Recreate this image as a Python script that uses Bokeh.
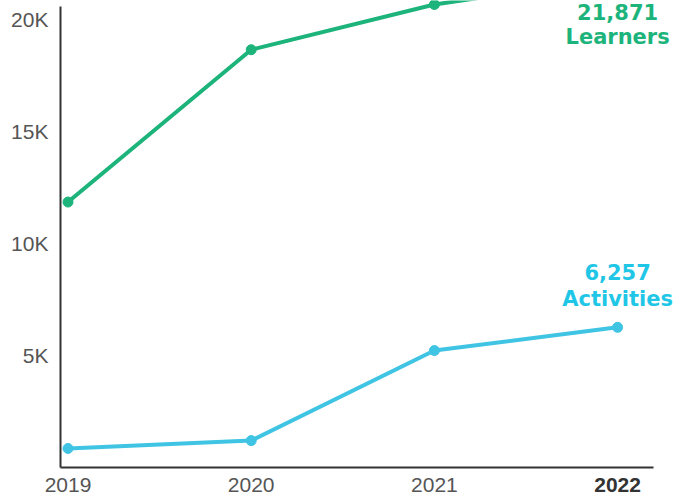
from bokeh.plotting import figure
from bokeh.models import FixedTicker, Label, Range1d, LinearAxis
from bokeh.embed import file_html
from bokeh.resources import INLINE

# ---- data ----
years = [2019, 2020, 2021, 2022]
learners = [11850, 18650, 20670, 21871]
activities = [850, 1200, 5220, 6257]
x_tick_labels = ["2019", "2020", "2021", "2022"]
y_ticks = [5000, 10000, 15000, 20000]
y_tick_labels = ["5K", "10K", "15K", "20K"]
learners_label = "21,871\nLearners"
activities_label = "6,257\nActivities"

GREEN = "#1db47c"
CYAN = "#3fc4e3"
CYAN_TEXT = "#1fc6e6"

# axis extents (data units)
X_AXIS_START, X_AXIS_END = 2018.959, 2022.196
Y_AXIS_START, Y_AXIS_END = 0, 20580

p = figure(width=675, height=498, output_backend="svg", toolbar_location=None,
           x_range=Range1d(2018.6316, 2022.316), y_range=Range1d(-1384, 20848),
           x_axis_location=None, y_axis_location=None,
           min_border_left=0, min_border_right=0, min_border_top=0,
           min_border_bottom=0)
p.outline_line_color = None
p.background_fill_color = "white"
p.border_fill_color = "white"

p.line(years, learners, line_color=GREEN, line_width=4)
p.scatter(years, learners, size=10, fill_color=GREEN, line_color=GREEN)
p.line(years, activities, line_color=CYAN, line_width=4)
p.scatter(years, activities, size=10, fill_color=CYAN, line_color=CYAN)

# axes drawn inside the frame at fixed locations
xaxis = LinearAxis(fixed_location=Y_AXIS_START, bounds=(X_AXIS_START, X_AXIS_END))
yaxis = LinearAxis(fixed_location=X_AXIS_START, bounds=(Y_AXIS_START, Y_AXIS_END))
xaxis.ticker = FixedTicker(ticks=years)
overrides = {y: lab for y, lab in zip(years, x_tick_labels)}
overrides[years[-1]] = ""
xaxis.major_label_overrides = overrides
yaxis.ticker = FixedTicker(ticks=y_ticks)
yaxis.major_label_overrides = {t: lab for t, lab in zip(y_ticks, y_tick_labels)}
for ax in (xaxis, yaxis):
    ax.axis_line_color = "#333333"
    ax.axis_line_width = 2
    ax.major_tick_line_color = None
    ax.minor_tick_line_color = None
    ax.major_tick_out = 0
    ax.major_tick_in = 0
    ax.minor_tick_out = 0
    ax.minor_tick_in = 0
    ax.major_label_text_font = "Liberation Sans"
    ax.major_label_text_font_size = "21px"
    ax.major_label_text_color = "#555555"
xaxis.major_label_standoff = 11
yaxis.major_label_standoff = 12
p.add_layout(xaxis, "below")
p.add_layout(yaxis, "left")

p.xgrid.visible = False
p.ygrid.visible = False

# bold last year label
p.add_layout(Label(x=years[-1], y=0, y_offset=-18, text=x_tick_labels[-1],
                   text_align="center", text_baseline="middle",
                   text_font="Liberation Sans", text_font_style="bold",
                   text_font_size="21px", text_color="#333333"))

# end labels
p.add_layout(Label(x=years[-1], y=learners[-1], y_offset=-71, text=learners_label,
                   text_align="center", text_baseline="bottom",
                   text_font="DejaVu Sans", text_font_style="bold",
                   text_font_size="21px", text_color=GREEN, text_line_height=1.0))
p.add_layout(Label(x=years[-1], y=activities[-1], y_offset=16, text=activities_label,
                   text_align="center", text_baseline="bottom",
                   text_font="DejaVu Sans", text_font_style="bold",
                   text_font_size="21px", text_color=CYAN_TEXT, text_line_height=1.1))

open("out.html", "w").write(file_html(p, INLINE))
